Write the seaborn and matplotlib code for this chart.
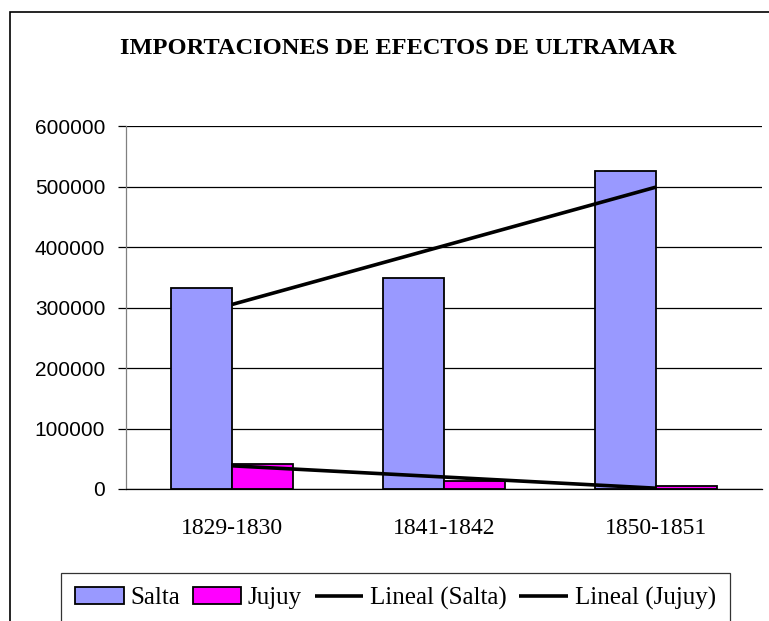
import matplotlib
matplotlib.use('Agg')
import matplotlib.pyplot as plt
from matplotlib.patches import Rectangle
import seaborn as sns
import numpy as np
import pandas as pd

periodos = ['1829-1830', '1841-1842', '1850-1851']
salta = [332000, 348000, 526000]
jujuy = [42000, 12500, 5000]
series = ['Salta', 'Jujuy']
colores = {'Salta': '#9999FF', 'Jujuy': '#FF00FF'}
yticks = [0, 100000, 200000, 300000, 400000, 500000, 600000]

df = pd.DataFrame({
    'periodo': periodos * 2,
    'valor': salta + jujuy,
    'serie': ['Salta'] * 3 + ['Jujuy'] * 3,
})

sns.set_style('white')
plt.rcParams['font.family'] = ['Liberation Serif', 'DejaVu Serif']
plt.rcParams['text.color'] = 'black'
plt.rcParams['xtick.color'] = 'black'
plt.rcParams['ytick.color'] = 'black'
plt.rcParams['axes.labelcolor'] = 'black'

fig = plt.figure(figsize=(7.69, 6.21), dpi=100)
ax = fig.add_axes([126 / 769, 1 - 489 / 621, 636 / 769, 363 / 621])

sns.barplot(data=df, x='periodo', y='valor', hue='serie', hue_order=series,
            palette=colores, width=0.576, edgecolor='black', linewidth=1.3,
            saturation=1, ax=ax)

# lineas de tendencia (ajuste lineal)
xs = np.arange(len(periodos))
for nombre, vals in [('Salta', salta), ('Jujuy', jujuy)]:
    m, b = np.polyfit(xs, vals, 1)
    ax.plot([xs[0], xs[-1]], [m * xs[0] + b, m * xs[-1] + b], color='black',
            lw=2.6, solid_capstyle='butt', label='Lineal (' + nombre + ')')

ax.set_xlim(-0.5, 2.5)
ax.set_ylim(0, 600000)
ax.set_yticks(yticks)
ax.set_yticklabels([str(v) for v in yticks], family='Liberation Sans', fontsize=15)
ax.yaxis.grid(True, color='black', lw=0.9)
ax.set_axisbelow(True)
ax.set_xticks(xs)
ax.set_xticklabels(periodos, fontsize=17)
ax.set_xticks([-0.5, 0.5, 1.5, 2.5], minor=True)
ax.tick_params(axis='x', which='major', length=0, pad=21)
ax.tick_params(axis='x', which='minor', length=6, width=0.9, color='black', direction='out')
ax.tick_params(axis='y', length=6, width=0.9, color='black', direction='out', pad=9, left=True)
ax.set_xlabel('')
ax.set_ylabel('')
for s in ['top', 'right']:
    ax.spines[s].set_visible(False)
ax.spines['left'].set_color('#808080')
ax.spines['left'].set_linewidth(0.9)
ax.spines['bottom'].set_color('black')
ax.spines['bottom'].set_linewidth(0.9)

handles, labels = ax.get_legend_handles_labels()
orden = ['Salta', 'Jujuy', 'Lineal (Salta)', 'Lineal (Jujuy)']
hmap = dict(zip(labels, handles))
ax.legend([hmap[k] for k in orden], orden, loc='upper left',
          bbox_to_anchor=(61 / 769, 1 - 573 / 621), bbox_transform=fig.transFigure,
          ncol=4, fontsize=18, frameon=True, fancybox=False, edgecolor='black',
          handlelength=1.95, handleheight=0.68, handletextpad=0.27,
          columnspacing=0.5, borderpad=0.55, borderaxespad=0)
ax.get_legend().get_frame().set_linewidth(0.9)

fig.text(398 / 769, 1 - 48 / 621, 'IMPORTACIONES DE EFECTOS DE ULTRAMAR',
         ha='center', va='center', fontsize=17.6, fontweight='bold')

# borde del area del grafico
fig.patches.append(Rectangle((10 / 769, -0.1), 1.2, (621 - 12) / 621 + 0.1,
                             transform=fig.transFigure, fill=False,
                             edgecolor='black', lw=1.2))

fig.savefig('out.png', dpi=100)
